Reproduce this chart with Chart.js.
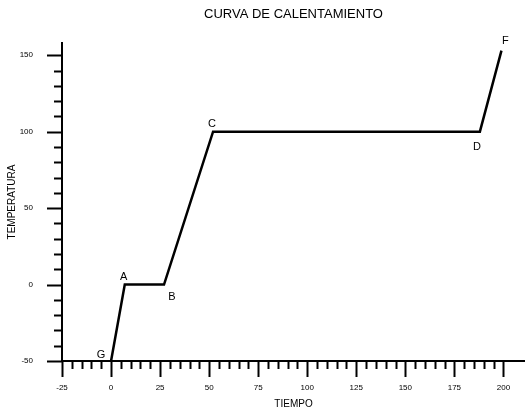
<!DOCTYPE html>
<html>
<head>
<meta charset="utf-8">
<script src="https://cdn.jsdelivr.net/npm/chart.js@4"></script>
<style>
    body { margin: 0; background: #fff; }
    #wrap { width: 525px; height: 409px; }
</style>
</head>
<body>
<div id="wrap"><canvas id="curvaChart"></canvas></div>
<script>
// datos
const tiempo = [0, 7, 27, 52, 188, 199];
const temperatura = [-50, 0, 0, 100, 100, 153];
const etiquetas = ['G', 'A', 'B', 'C', 'D', 'F'];
const xTickLabels = [-25, 0, 25, 50, 75, 100, 125, 150, 175, 200];
const yTickLabels = [-50, 0, 50, 100, 150];

// desplazamiento de cada letra respecto a su punto (px)
const offsets = [[-10, -6], [-1, -8], [8, 12], [-1, -8], [-3, 15], [4, -10]];

const marcas = {
    id: 'marcas',
    afterDatasetsDraw(chart) {
        const ctx = chart.ctx;
        const xs = chart.scales.x;
        const ys = chart.scales.y;
        const base = ys.getPixelForValue(-50);
        const left = xs.getPixelForValue(-25);
        ctx.save();
        ctx.strokeStyle = '#000';
        ctx.lineWidth = 2;
        // ticks eje x
        xs.ticks.forEach(t => {
            if (t.value > 200 || t.value % 5 !== 0) return;
            const px = Math.round(xs.getPixelForValue(t.value)) + 0.5;
            const len = xTickLabels.includes(t.value) ? 16 : 8;
            ctx.beginPath();
            ctx.moveTo(px, base);
            ctx.lineTo(px, base + len);
            ctx.stroke();
        });
        // ticks eje y
        ys.ticks.forEach(t => {
            if (t.value % 10 !== 0) return;
            const py = Math.round(ys.getPixelForValue(t.value)) + 0.5;
            const len = yTickLabels.includes(t.value) ? 15 : 8;
            ctx.beginPath();
            ctx.moveTo(left, py);
            ctx.lineTo(left - len, py);
            ctx.stroke();
        });
        // letras de los puntos
        ctx.fillStyle = '#000';
        ctx.font = '11px "Liberation Sans", Arial, sans-serif';
        ctx.textAlign = 'center';
        ctx.textBaseline = 'middle';
        etiquetas.forEach((e, i) => {
            const px = xs.getPixelForValue(tiempo[i]) + offsets[i][0];
            const py = ys.getPixelForValue(temperatura[i]) + offsets[i][1];
            ctx.fillText(e, px, py);
        });
        ctx.restore();
    }
};

const fuente = '"Liberation Sans", Arial, sans-serif';

new Chart(document.getElementById('curvaChart'), {
    type: 'line',
    data: {
        datasets: [
            {
                label: 'Curva',
                data: tiempo.map((t, i) => ({ x: t, y: temperatura[i] })),
                borderColor: '#000',
                borderWidth: 2.5,
                pointRadius: 0,
                tension: 0,
                fill: false,
                clip: false
            }
        ]
    },
    options: {
        responsive: true,
        maintainAspectRatio: false,
        animation: false,
        layout: { padding: 0 },
        plugins: {
            legend: { display: false },
            tooltip: { enabled: false },
            title: {
                display: true,
                text: 'CURVA DE CALENTAMIENTO',
                fullSize: false,
                color: '#000',
                font: { family: fuente, size: 13, weight: 'normal', lineHeight: 1 },
                padding: { top: 7.5, bottom: 22.5 }
            }
        },
        scales: {
            x: {
                type: 'linear',
                min: -25,
                max: 211,
                afterFit: s => { s.height = 48; },
                // marcas invisibles: solo separan las etiquetas del eje
                grid: { display: true, drawOnChartArea: false, drawTicks: true, tickLength: 22, color: 'transparent' },
                border: { display: true, color: '#000', width: 2 },
                ticks: {
                    stepSize: 5,
                    autoSkip: false,
                    maxRotation: 0,
                    padding: 0,
                    color: '#000',
                    font: { family: fuente, size: 8 },
                    callback: v => xTickLabels.includes(v) ? String(v) : ''
                },
                title: {
                    display: true,
                    text: 'TIEMPO',
                    color: '#000',
                    font: { family: fuente, size: 10, lineHeight: 1 },
                    padding: { top: 0, bottom: 0 }
                }
            },
            y: {
                min: -50,
                max: 158,
                afterFit: s => { s.width = 62; },
                grid: { display: true, drawOnChartArea: false, drawTicks: true, tickLength: 29, color: 'transparent' },
                border: { display: true, color: '#000', width: 2 },
                ticks: {
                    stepSize: 10,
                    autoSkip: false,
                    padding: 0,
                    color: '#000',
                    font: { family: fuente, size: 8 },
                    callback: v => yTickLabels.includes(v) ? String(v) : ''
                },
                title: {
                    display: true,
                    text: 'TEMPERATURA',
                    color: '#000',
                    font: { family: fuente, size: 10, lineHeight: 1.2 },
                    padding: { top: 6, bottom: 0 }
                }
            }
        }
    },
    plugins: [marcas]
});
</script>
</body>
</html>
